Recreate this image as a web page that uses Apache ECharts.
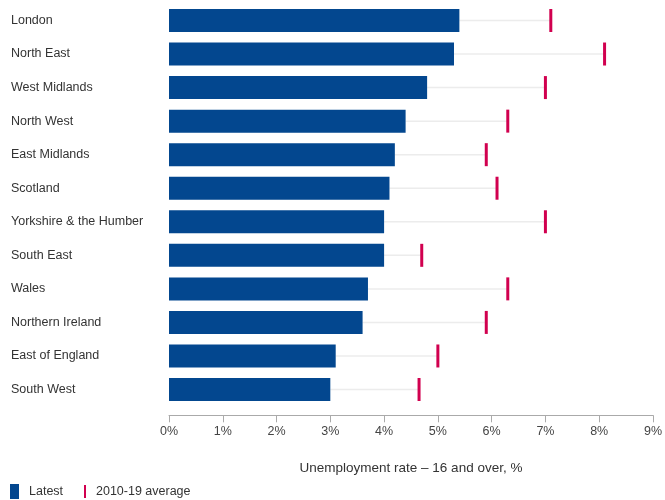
<!DOCTYPE html>
<html>
<head>
<meta charset="utf-8">
<script src="https://cdn.jsdelivr.net/npm/echarts@6/dist/echarts.min.js"></script>
<style>
html,body{margin:0;padding:0;background:#fff;}
#chart{width:665px;height:500px;}
</style>
</head>
<body>
<div id="chart"></div>
<script>
const regions = ["London","North East","West Midlands","North West","East Midlands","Scotland","Yorkshire & the Humber","South East","Wales","Northern Ireland","East of England","South West"];
const latest = [5.4,5.3,4.8,4.4,4.2,4.1,4.0,4.0,3.7,3.6,3.1,3.0];
const average2010_19 = [7.1,8.1,7.0,6.3,5.9,6.1,7.0,4.7,6.3,5.9,5.0,4.65];
const xTickValues = [0,1,2,3,4,5,6,7,8,9];

const BLUE = '#03478F';
const CRIMSON = '#D1004F';
const FONT = 'Liberation Sans';

const chart = echarts.init(document.getElementById('chart'), null, {renderer:'canvas'});

const avgData = regions.map((r, i) => [average2010_19[i], i, latest[i]]);

chart.setOption({
  animation: false,
  textStyle: {fontFamily: FONT},
  grid: {left: 169, right: 12, top: 3.7, bottom: 93.7, containLabel: false},
  legend: [
    {
      data: [{name: 'Latest', icon: 'rect'}],
      left: 10, top: 484, padding: 0,
      itemWidth: 9, itemHeight: 15,
      textStyle: {fontSize: 12.5, color: '#333', fontFamily: FONT, padding: [0,0,0,5]},
      selectedMode: false
    },
    {
      data: [{name: '2010-19 average', icon: 'rect'}],
      left: 84, top: 485, padding: 0,
      itemWidth: 2, itemHeight: 13,
      textStyle: {fontSize: 12.5, color: '#333', fontFamily: FONT, padding: [0,0,0,5]},
      selectedMode: false
    }
  ],
  xAxis: {
    type: 'value',
    min: xTickValues[0], max: xTickValues[xTickValues.length-1], interval: 1,
    offset: 9,
    axisLine: {show: true, lineStyle: {color: '#aaa', width: 1}},
    axisTick: {show: true, length: 7, lineStyle: {color: '#aaa'}},
    splitLine: {show: false},
    axisLabel: {formatter: '{value}%', fontSize: 12.5, color: '#444', margin: 10, fontFamily: FONT},
    name: 'Unemployment rate – 16 and over, %',
    nameLocation: 'middle',
    nameGap: 46,
    nameTextStyle: {fontSize: 13.5, color: '#333', fontFamily: FONT}
  },
  yAxis: {
    type: 'category',
    data: regions,
    inverse: true,
    axisLine: {show: false},
    axisTick: {show: false},
    axisLabel: {align: 'left', margin: 158, fontSize: 12.5, color: '#333', fontFamily: FONT}
  },
  series: [
    {
      name: 'Latest',
      type: 'bar',
      data: latest,
      barWidth: 23,
      itemStyle: {color: BLUE},
      z: 3
    },
    {
      name: '2010-19 average',
      type: 'custom',
      data: avgData,
      encode: {x: 0, y: 1},
      itemStyle: {color: CRIMSON},
      z: 2,
      renderItem: function (params, api) {
        const avgPt = api.coord([api.value(0), api.value(1)]);
        const latPt = api.coord([api.value(2), api.value(1)]);
        const h = 23;
        return {
          type: 'group',
          children: [
            {
              type: 'line',
              shape: {x1: latPt[0], y1: latPt[1], x2: avgPt[0], y2: avgPt[1]},
              style: {stroke: '#ececec', lineWidth: 1.5}
            },
            {
              type: 'rect',
              shape: {x: avgPt[0] - 1.5, y: avgPt[1] - h/2, width: 3, height: h},
              style: {fill: CRIMSON}
            }
          ]
        };
      }
    }
  ]
});
</script>
</body>
</html>
